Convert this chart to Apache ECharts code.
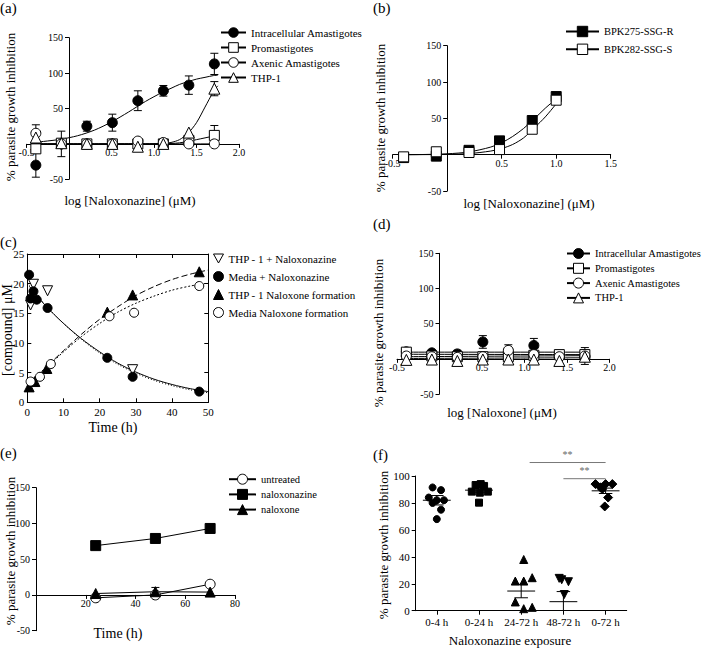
<!DOCTYPE html>
<html><head><meta charset="utf-8">
<script src="https://cdn.jsdelivr.net/npm/echarts@6/dist/echarts.min.js"></script>
<style>html,body{margin:0;padding:0;background:#fff}#main{width:707px;height:648px}</style>
</head><body><div id="main"></div>
<script>
// ---------- Panel (a) ----------
const aNames = ['Intracellular Amastigotes','Promastigotes','Axenic Amastigotes','THP-1'];
const aX = [-0.39,-0.09,0.21,0.51,0.81,1.11,1.41,1.71];
const aIntra = [-30,0,25,30,61,75,83,113];
const aIntraErr = [17,18,7,12,14,7.5,13,15];
const aPro = [-7,1,0,0,0,0,5,12];
const aProErr = [0,0,0,0,0,0,0,14];
const aAxe = [15,0,0,0,4,2,0,0];
const aAxeErr = [12,0,0,0,0,0,0,0];
const aThp = [9,1,0,0,-4,0,16,78];
const aThpErr = [0,0,0,0,0,0,0,10];
const aFitX = [-0.45,-0.3,-0.1,0.1,0.3,0.5,0.7,0.9,1.1,1.2,1.3,1.4,1.5,1.6,1.7,1.75];
const aIntraFit = [2,3.5,6.5,11.5,19.5,31,45,60,73,78.5,84,88,91.5,94,96.5,97];
const aProFit = [0,0,0,0,0,0,0,0,0.2,0.6,1.5,3.5,6,8.5,11,12];
const aAxeFit = [0,0,0,0,0,0,0,0,0,0,0,0,0,0,0,0];
const aThpFit = [0,0,0,0,0,0,0,0,0.5,2,6,15,30,52,74,82];

// ---------- Panel (b) ----------
const bNames = ['BPK275-SSG-R','BPK282-SSG-S'];
const bX = [-0.4,-0.1,0.2,0.48,0.78,1.0];
const bR = [-4,-2,6,19,47,80];
const bS = [-3,4,3,7,35,75];
const bFitX = [-0.4,-0.2,0,0.2,0.4,0.5,0.6,0.7,0.8,0.9,1.0,1.03];
const bRFit = [0,0.3,1.2,3.8,10.5,16.5,25,36,49.5,64,77,81];
const bSFit = [0,0.1,0.4,1.5,5,8.5,14,23,37,52,70,76];

// ---------- Panel (c) ----------
const cNames = ['THP - 1 + Naloxonazine','Media + Naloxonazine','THP - 1 Naloxone formation','Media Naloxone formation'];
const cThpNalT = [0.9,1.7,5.6,29.1];
const cThpNal = [16.4,19.9,18.8,5.5];
const cMedNalT = [0.5,0.9,1.7,2.6,5.6,22.1,29.1,47.5];
const cMedNal = [21.5,17.5,18.7,17.3,15.9,7.5,4.3,1.8];
const cThpForT = [0.5,2.1,5.4,22.1,29.1,47.5];
const cThpFor = [2.6,3.5,5.7,15.2,18.1,22];
const cMedForT = [0.9,3.5,6.5,22.7,29.5,47.5];
const cMedFor = [3.5,4.3,6.45,14.5,15.1,19.6];
const cFitT = [0.5,5,10,15,20,25,30,35,40,45,50];
const cMedNalFit = [19.6,16.3,13.3,10.7,8.5,6.6,5.1,3.9,3.0,2.3,1.8];
const cThpNalFit = [19.8,16.4,13.3,10.6,8.3,6.4,4.9,3.7,2.8,2.1,1.6];
const cThpForFit = [3,5.8,8.7,11.5,14,16.1,18,19.5,20.7,21.6,22.3];
const cMedForFit = [3.5,5.7,8.5,11.1,13.3,15.2,16.7,17.9,18.9,19.6,20.1];

// ---------- Panel (d) ----------
const dNames = ['Intracellular Amastigotes','Promastigotes','Axenic Amastigotes','THP-1'];
const dX = [-0.39,-0.09,0.21,0.51,0.81,1.11,1.41,1.71];
const dIntra = [10,8.5,7,24,10,19,3,3];
const dIntraErr = [0,0,5,9,0,10,0,0];
const dPro = [9.5,4,3,3,3,5,6,6];
const dProErr = [4,0,0,0,0,0,0,0];
const dAxe = [4,3,2,3,12,6,3,4];
const dAxeErr = [0,0,0,0,8,0,0,12];
const dThp = [-1.5,-1,-3,-1,-1,-1,-3,3];
const dFitX = [-0.45,1.75];
const dIntraFit = [9.5,9.5];
const dProFit = [6.5,6];
const dAxeFit = [3,4.5];
const dThpFit = [0.5,1.5];

// ---------- Panel (e) ----------
const eNames = ['untreated','naloxonazine','naloxone'];
const eX = [24,48,70];
const eUnt = [-4,0,15];
const eNalz = [69,79,93];
const eNalx = [2,4.5,4];
const eNalxErr = [0,6,0];

// ---------- Panel (f) ----------
const fCats = ['0-4 h','0-24 h','24-72 h','48-72 h','0-72 h'];
const f04 = [91.5,89.5,84,82,82,80,75,68];
const f04Dx = [-0.1,0.1,-0.19,0,0.17,-0.1,0.1,0];
const f024 = [88.4,93.3,94,92.6,88.4,87.6,80.2];
const f024Dx = [-0.17,-0.08,0.04,0.12,0.21,0.02,0];
const f2472 = [38,22,22,24.5,6.5,1.5,2.5];
const f2472Dx = [0.06,-0.14,0.06,0.26,-0.14,0.06,0.26];
const f4872 = [24,23,21.5,12];
const f4872Dx = [-0.1,-0.04,0.12,0.02];
const f072 = [94,91.6,94,94,90.3,84,77.4];
const f072Dx = [-0.24,-0.12,0,0.16,-0.08,0.06,-0.02];
const fMean = [82,89.5,14.6,6.7,89];
const fSem = [3.5,1.5,5,7.5,2];
const fSigFrom = [2.2,3];
const fSigTo = [4,4];
const fSigY = [110,98];
const fSigText = ['**','**'];

// ---------- helpers ----------
const FONT = 'Liberation Serif';
const BLK = '#000';
const FILL = {color:BLK, borderColor:BLK, borderWidth:1, opacity:1};
const OPEN = {color:'#fff', borderColor:BLK, borderWidth:1, opacity:1};
const pts = (xs, ys) => xs.map((x,i)=>[x, ys[i]]);

function curve(name, ax, xs, ys, sym, style, lineType, rot, size){
  return {type:'line', name, xAxisIndex:ax, yAxisIndex:ax, data:pts(xs,ys), smooth:0.3,
    showSymbol:false, symbol:sym, symbolSize:size||10, symbolRotate:rot||0, itemStyle:style,
    lineStyle:{color:BLK, width:1, type:lineType||'solid', opacity:1}, z:2, silent:true, animation:false};
}
function scat(name, ax, xs, ys, sym, size, style, rot){
  return {type:'scatter', name, xAxisIndex:ax, yAxisIndex:ax, data:pts(xs,ys), symbol:sym,
    symbolSize:size, symbolRotate:rot||0, itemStyle:style, z:4, silent:true, animation:false};
}
function errBars(ax, xs, ys, es, cap){
  return {type:'custom', xAxisIndex:ax, yAxisIndex:ax, z:1, silent:true, animation:false,
    encode:{x:0, y:1},
    data: xs.map((x,i)=>[x, ys[i], es[i]]).filter(d=>d[2]>0),
    renderItem:function(p, api){
      const x=api.value(0), y=api.value(1), e=api.value(2);
      const t=api.coord([x,y+e]), b=api.coord([x,y-e]);
      const st={stroke:BLK, lineWidth:1};
      return {type:'group', children:[
        {type:'line', shape:{x1:t[0],y1:t[1],x2:b[0],y2:b[1]}, style:st},
        {type:'line', shape:{x1:t[0]-cap,y1:t[1],x2:t[0]+cap,y2:t[1]}, style:st},
        {type:'line', shape:{x1:b[0]-cap,y1:b[1],x2:b[0]+cap,y2:b[1]}, style:st}]};
    }};
}
const lineSt = {color:BLK, width:1};
function vAxis(grid, min, max, interval, o){
  o = o || {};
  return {gridIndex:grid, type:'value', min, max, interval, position:o.position, offset:o.offset||0,
    axisLine:{show:true, onZero:false, lineStyle:lineSt},
    axisTick:{show:true, inside:!!o.inside, length:4, lineStyle:lineSt},
    axisLabel:{show:o.noLabel?false:true, color:BLK, fontFamily:FONT, fontSize:o.fs||10,
      margin:o.margin===undefined?6:o.margin, formatter:o.fmt, hideOverlap:false},
    splitLine:{show:false}};
}
const hide0dec = v => (Math.abs(v)<1e-9 ? '' : v.toFixed(1));
const hide0 = v => (Math.abs(v)<1e-9 ? '' : String(v));

// grid boxes
const grids = [
  {left:26.5, top:37.7, width:212.5, height:141.6},
  {left:392.7, top:45.7, width:218, height:145.3},
  {left:27.3, top:254, width:181, height:148.3},
  {left:397, top:253.3, width:212.5, height:140.7},
  {left:36, top:487.7, width:199, height:143},
  {left:415.7, top:476, width:211, height:134.7}
];
// shift of an axis so that it crosses the other axis at value 0
const zeroShiftX = (g, min, max) => -grids[g].height * (0 - min) / (max - min);
const zeroShiftY = (g, min, max) => -grids[g].width * (0 - min) / (max - min);

function legend(names, left, top, iw, ih, gap, fs, icons){
  return {data: names.map((n,i)=> icons ? {name:n, icon:icons[i]} : n),
    orient:'vertical', left, top, itemWidth:iw, itemHeight:ih, itemGap:gap, padding:0,
    selectedMode:false,
    textStyle:{color:BLK, fontFamily:FONT, fontSize:fs},
    itemStyle:{borderWidth:1}};
}
function txt(text, x, y, size, rot, align){
  return {type:'text', x, y, rotation:rot||0, silent:true,
    style:{text, fill:BLK, font:size+'px '+FONT, textAlign:align||'center', textVerticalAlign:'middle'}};
}

// ---------- axes ----------
const xAxes = [
  vAxis(0,-0.5,2,0.5,{fmt:hide0dec, margin:4, offset:zeroShiftX(0,-50,150)}),
  vAxis(1,-0.5,1.5,0.5,{fmt:hide0dec, margin:4, offset:zeroShiftX(1,-50,150)}),
  vAxis(2,0,50,10,{inside:true, fs:11, margin:4}),
  vAxis(3,-0.5,2,0.5,{fmt:hide0dec, margin:4, offset:zeroShiftX(3,-50,150)}),
  vAxis(4,0,80,20,{fmt:hide0, margin:4, offset:zeroShiftX(4,-50,150)}),
  {gridIndex:5, type:'category', data:fCats, boundaryGap:true,
    axisLine:{show:true, onZero:false, lineStyle:lineSt},
    axisTick:{show:true, alignWithLabel:true, length:4, lineStyle:lineSt},
    axisLabel:{color:BLK, fontFamily:FONT, fontSize:11, margin:6, interval:0, hideOverlap:false}, splitLine:{show:false}},
  vAxis(2,0,50,10,{inside:true, noLabel:true, position:'top'}),
  {gridIndex:5, type:'value', min:-0.5, max:4.5, show:false}
];
const yAxes = [
  vAxis(0,-50,150,50,{fmt:hide0, offset:zeroShiftY(0,-0.5,2)}),
  vAxis(1,-50,150,50,{fmt:hide0, offset:zeroShiftY(1,-0.5,1.5)}),
  vAxis(2,0,25,5,{inside:true, fs:11, margin:3}),
  vAxis(3,-50,150,50,{fmt:hide0, offset:zeroShiftY(3,-0.5,2)}),
  vAxis(4,-50,150,50,{}),
  vAxis(5,0,100,20,{fs:11}),
  vAxis(2,0,25,5,{inside:true, noLabel:true, position:'right'})
];

// ---------- series ----------
const series = [];
// (a)
series.push(curve(aNames[0],0,aFitX,aIntraFit,'circle',FILL));
series.push(curve(aNames[1],0,aFitX,aProFit,'rect',OPEN));
series.push(curve(aNames[2],0,aFitX,aAxeFit,'circle',OPEN));
series.push(curve(aNames[3],0,aFitX,aThpFit,'triangle',OPEN));
series.push(errBars(0,aX,aIntra,aIntraErr,4), errBars(0,aX,aPro,aProErr,4),
            errBars(0,aX,aAxe,aAxeErr,4), errBars(0,aX,aThp,aThpErr,4));
series.push(scat(aNames[0],0,aX,aIntra,'circle',10,FILL));
series.push(scat(aNames[1],0,aX,aPro,'rect',10,OPEN));
series.push(scat(aNames[2],0,aX,aAxe,'circle',10,OPEN));
series.push(scat(aNames[3],0,aX,aThp,'triangle',11,OPEN));
// (b)
series.push(curve(bNames[0],1,bFitX,bRFit,'rect',FILL,'solid',0,10));
series.push(curve(bNames[1],1,bFitX,bSFit,'rect',OPEN,'solid',0,10));
series.push(scat(bNames[0],1,bX,bR,'rect',10,FILL));
series.push(scat(bNames[1],1,bX,bS,'rect',10,OPEN));
// (c)
series.push(scat(cNames[0],2,cThpNalT,cThpNal,'triangle',10,OPEN,180));
series.push(scat(cNames[1],2,cMedNalT,cMedNal,'circle',9,FILL));
series.push(scat(cNames[2],2,cThpForT,cThpFor,'triangle',10,FILL));
series.push(scat(cNames[3],2,cMedForT,cMedFor,'circle',9,OPEN));
series.push(curve('c fit 1',2,cFitT,cThpNalFit,'none',FILL,[1,2]));
series.push(curve('c fit 2',2,cFitT,cMedNalFit,'none',FILL,'solid'));
series.push(curve('c fit 3',2,cFitT,cThpForFit,'none',FILL,[6,3]));
series.push(curve('c fit 4',2,cFitT,cMedForFit,'none',FILL,[2,2]));
// (d)
series.push(curve(dNames[0],3,dFitX,dIntraFit,'circle',FILL));
series.push(curve(dNames[1],3,dFitX,dProFit,'rect',OPEN));
series.push(curve(dNames[2],3,dFitX,dAxeFit,'circle',OPEN));
series.push(curve(dNames[3],3,dFitX,dThpFit,'triangle',OPEN));
series.push(errBars(3,dX,dIntra,dIntraErr,4), errBars(3,dX,dPro,dProErr,4), errBars(3,dX,dAxe,dAxeErr,4));
series.push(scat(dNames[0],3,dX,dIntra,'circle',10,FILL));
series.push(scat(dNames[1],3,dX,dPro,'rect',10,OPEN));
series.push(scat(dNames[2],3,dX,dAxe,'circle',10,OPEN));
series.push(scat(dNames[3],3,dX,dThp,'triangle',11,OPEN));
// (e)
function eLine(name, ys, sym, style){
  return {type:'line', name, xAxisIndex:4, yAxisIndex:4, data:pts(eX,ys), symbol:sym, symbolSize:10,
    showSymbol:true, itemStyle:style, lineStyle:{color:BLK,width:1}, z:3, silent:true, animation:false};
}
series.push(eLine(eNames[0],eUnt,'circle',OPEN));
series.push(eLine(eNames[1],eNalz,'rect',FILL));
series.push(eLine(eNames[2],eNalx,'triangle',FILL));
series.push(errBars(4,eX,eNalx,eNalxErr,4));
// (f)
function fScat(vals, dx, cat, sym, size, rot){
  return {type:'scatter', xAxisIndex:7, yAxisIndex:5, data:vals.map((v,i)=>[cat+dx[i], v]),
    symbol:sym, symbolSize:size, symbolRotate:rot||0, itemStyle:FILL, z:4, silent:true, animation:false};
}
series.push(fScat(f04,f04Dx,0,'circle',7));
series.push(fScat(f024,f024Dx,1,'rect',7));
series.push(fScat(f2472,f2472Dx,2,'triangle',8));
series.push(fScat(f4872,f4872Dx,3,'triangle',8,180));
series.push(fScat(f072,f072Dx,4,'diamond',9));
series.push({type:'custom', xAxisIndex:7, yAxisIndex:5, z:5, silent:true, animation:false, encode:{x:0,y:1},
  data: fMean.map((m,i)=>[i, m, fSem[i]]),
  renderItem:function(p, api){
    const i=api.value(0), m=api.value(1), s=api.value(2);
    const ml=api.coord([i-0.33,m]), mr=api.coord([i+0.33,m]);
    const t=api.coord([i,m+s]), b=api.coord([i,Math.max(m-s,0)]);
    const w=api.size([0.16,0])[0];
    const st={stroke:BLK, lineWidth:1};
    const kids=[
      {type:'line', shape:{x1:ml[0],y1:ml[1],x2:mr[0],y2:mr[1]}, style:st},
      {type:'line', shape:{x1:t[0],y1:t[1],x2:b[0],y2:b[1]}, style:st},
      {type:'line', shape:{x1:t[0]-w,y1:t[1],x2:t[0]+w,y2:t[1]}, style:st}];
    if (m-s>0) kids.push({type:'line', shape:{x1:b[0]-w,y1:b[1],x2:b[0]+w,y2:b[1]}, style:st});
    return {type:'group', children:kids};
  }});
series.push({type:'custom', xAxisIndex:7, yAxisIndex:5, z:5, silent:true, animation:false, clip:false,
  encode:{x:0,y:2},
  data: fSigFrom.map((f,i)=>[f, fSigTo[i], fSigY[i], i]),
  renderItem:function(p, api){
    const a=api.coord([api.value(0), api.value(2)]), b=api.coord([api.value(1), api.value(2)]);
    const lab = fSigText[api.value(3)];
    return {type:'group', children:[
      {type:'line', shape:{x1:a[0],y1:a[1],x2:b[0],y2:b[1]}, style:{stroke:'#777', lineWidth:1}},
      {type:'text', style:{text:lab, x:(a[0]+b[0])/2, y:a[1]-3, fill:'#666', font:'10px '+FONT,
        textAlign:'center', textVerticalAlign:'bottom'}}]};
  }});

const option = {
  backgroundColor:'#fff',
  animation:false,
  textStyle:{fontFamily:FONT},
  grid:grids,
  xAxis:xAxes,
  yAxis:yAxes,
  legend:[
    legend(aNames,220,27,25,12,4,11),
    legend(bNames,565,25.8,33,13,6.4,10.5),
    legend(cNames,213,253,10,10,7,11,['path://M0,0 L10,0 L5,9 Z','circle','triangle','circle']),
    legend(dNames,566,248,23,12.5,3.8,10.5),
    legend(eNames,228,473.7,27,12.5,4.2,10.5)
  ],
  graphic:[
    txt('(a)',0,8,15,0,'left'), txt('(b)',373,8,15,0,'left'), txt('(c)',0,242,15,0,'left'),
    txt('(d)',373,224,15,0,'left'), txt('(e)',0,453,15,0,'left'), txt('(f)',373,455,15,0,'left'),
    txt('% parasite growth inhibition',10,107,13,Math.PI/2),
    txt('% parasite growth inhibition',380,118,13,Math.PI/2),
    txt('[compound] μM',7,330,14,Math.PI/2),
    txt('% parasite growth inhibition',378,333,13,Math.PI/2),
    txt('% parasite growth inhibition',10,551,13,Math.PI/2),
    txt('% parasite growth inhibition',383,545,13,Math.PI/2),
    txt('log [Naloxonazine] (μM)',130,200,13),
    txt('log [Naloxonazine] (μM)',529,203,13),
    txt('Time (h)',113,427,14),
    txt('log [Naloxone] (μM)',502,412,13),
    txt('Time (h)',118,633,14),
    txt('Naloxonazine exposure',510,640,13)
  ],
  series
};
const chart = echarts.init(document.getElementById('main'), null, {renderer:'svg'});
chart.setOption(option);
</script>
</body></html>
